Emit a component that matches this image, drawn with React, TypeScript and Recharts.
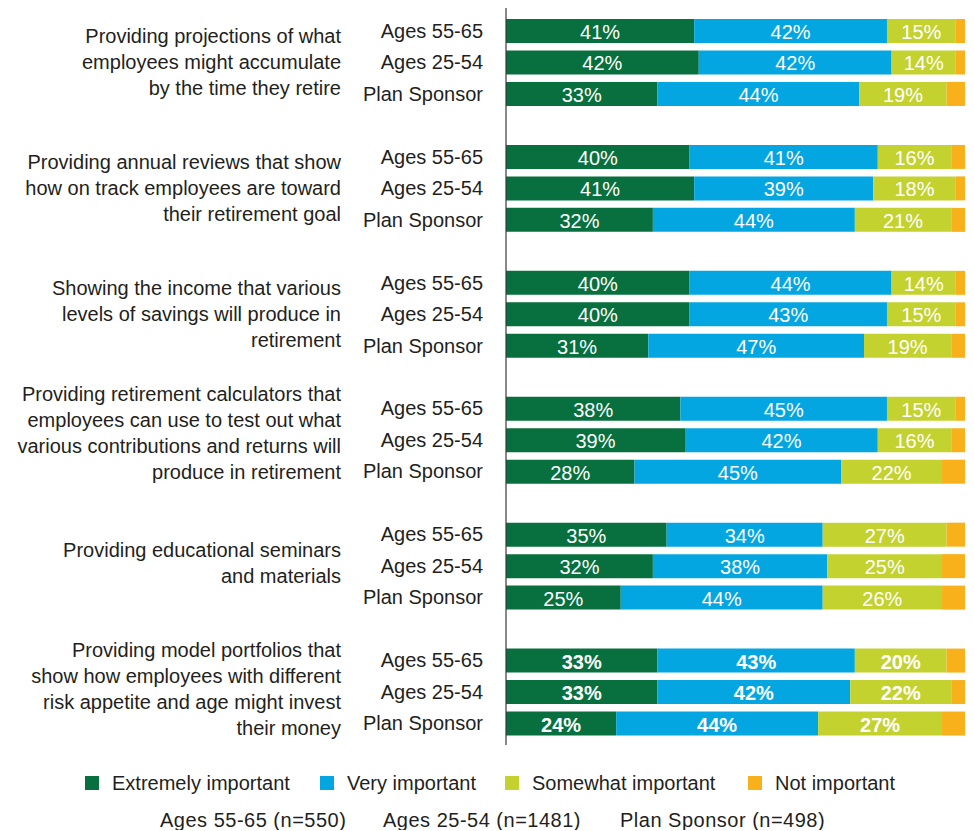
import { BarChart, Bar, XAxis, YAxis, LabelList } from "recharts";

// ─── Data ────────────────────────────────────────────────
const GROUPS: string[][] = [
  ["Providing projections of what", "employees might accumulate", "by the time they retire"],
  ["Providing annual reviews that show", "how on track employees are toward", "their retirement goal"],
  ["Showing the income that various", "levels of savings will produce in", "retirement"],
  [
    "Providing retirement calculators that",
    "employees can use to test out what",
    "various contributions and returns will",
    "produce in retirement",
  ],
  ["Providing educational seminars", "and materials"],
  [
    "Providing model portfolios that",
    "show how employees with different",
    "risk appetite and age might invest",
    "their money",
  ],
];

const SEGMENTS = ["Ages 55-65", "Ages 25-54", "Plan Sponsor"];

// one value per bar: group by group, segment by segment
const EXTREMELY = [41, 42, 33, 40, 41, 32, 40, 40, 31, 38, 39, 28, 35, 32, 25, 33, 33, 24];
const VERY = [42, 42, 44, 41, 39, 44, 44, 43, 47, 45, 42, 45, 34, 38, 44, 43, 42, 44];
const SOMEWHAT = [15, 14, 19, 16, 18, 21, 14, 15, 19, 15, 16, 22, 27, 25, 26, 20, 22, 27];
const NOT_IMPORTANT = [2, 2, 4, 3, 2, 3, 2, 2, 3, 2, 3, 5, 4, 5, 5, 4, 3, 5];

const SERIES = [
  { key: "extremely", name: "Extremely important", color: "#08703e", values: EXTREMELY },
  { key: "very", name: "Very important", color: "#03a6e1", values: VERY },
  { key: "somewhat", name: "Somewhat important", color: "#c3d22f", values: SOMEWHAT },
  { key: "notImportant", name: "Not important", color: "#f8b11a", values: NOT_IMPORTANT },
];

const SAMPLES = ["Ages 55-65 (n=550)", "Ages 25-54 (n=1481)", "Plan Sponsor (n=498)"];

// last group is printed in bold
const BOLD_GROUP = 5;

// ─── Rows (with an empty spacer row between groups) ──────
interface Row {
  key: string;
  g: number;
  s: number;
  [k: string]: any;
}

const ROWS: Row[] = [];
GROUPS.forEach((_, g) => {
  SEGMENTS.forEach((_, s) => {
    const i = g * SEGMENTS.length + s;
    const row: Row = { key: `r${g}-${s}`, g, s };
    SERIES.forEach((se) => (row[se.key] = se.values[i]));
    ROWS.push(row);
  });
  if (g < GROUPS.length - 1) ROWS.push({ key: `gap${g}`, g: -1, s: -1 });
});
const ROW_BY_KEY: Record<string, Row> = {};
ROWS.forEach((r) => (ROW_BY_KEY[r.key] = r));

const FONT = '"Liberation Sans", Arial, Helvetica, sans-serif';
const TEXT = "#231f20";

// ─── Y axis tick: segment label + group title ────────────
function RowTick(props: any) {
  const { y, payload } = props;
  const row = ROW_BY_KEY[payload.value];
  if (!row || row.g < 0) return null;
  const lines = GROUPS[row.g];
  const shift = lines.length === 3 ? 0 : lines.length === 4 && row.g === 3 ? -7 : -3;
  return (
    <g>
      <text x={475} y={y} textAnchor="end" dominantBaseline="central" fontSize={20} fill={TEXT} fontFamily={FONT}>
        {SEGMENTS[row.s]}
      </text>
      {row.s === 1 &&
        lines.map((line, i) => (
          <text
            key={i}
            x={333}
            y={y + shift + (i - (lines.length - 1) / 2) * 26}
            textAnchor="end"
            dominantBaseline="central"
            fontSize={20}
            fill={TEXT}
            fontFamily={FONT}
          >
            {line}
          </text>
        ))}
    </g>
  );
}

// ─── Bar value label ─────────────────────────────────────
function ValueLabel(props: any) {
  const { x, y, width, height, value } = props;
  if (value == null || value.v == null) return null;
  return (
    <text
      x={x + width / 2}
      y={y + height / 2 + 1}
      textAnchor="middle"
      dominantBaseline="central"
      fontSize={20}
      fill="#ffffff"
      fontWeight={value.bold ? "bold" : "normal"}
      fontFamily={FONT}
    >
      {value.v}%
    </text>
  );
}

// ─── Component ───────────────────────────────────────────
export default function App() {
  const legendX = [77, 312, 497, 740];
  const sampleX = [152, 375, 612];
  return (
    <div style={{ width: 966, fontFamily: FONT, color: TEXT }}>
      <BarChart
        width={966}
        height={745}
        data={ROWS}
        layout="vertical"
        barSize={24}
        margin={{ top: 0, right: 9, bottom: 8, left: 0 }}
      >
        <XAxis type="number" domain={[0, 100]} hide />
        <YAxis
          type="category"
          dataKey="key"
          width={498}
          padding={{ top: 7, bottom: 6 }}
          axisLine={{ stroke: "#3a3a3a", strokeWidth: 1.2 }}
          tickLine={false}
          interval={0}
          tick={<RowTick />}
        />
        {SERIES.map((se) => (
          <Bar key={se.key} dataKey={se.key} name={se.name} stackId="a" fill={se.color} isAnimationActive={false}>
            {se.key !== "notImportant" && (
              <LabelList
                dataKey={(r: Row) => (r[se.key] == null ? null : { v: r[se.key], bold: r.g === BOLD_GROUP })}
                content={<ValueLabel />}
              />
            )}
          </Bar>
        ))}
      </BarChart>

      {/* Legend */}
      <div style={{ position: "relative", height: 20, marginTop: 20, fontSize: 20, lineHeight: "20px" }}>
        {SERIES.map((se, i) => (
          <div key={se.key} style={{ position: "absolute", left: legendX[i], top: 0, display: "flex", alignItems: "center" }}>
            <span style={{ display: "inline-block", width: 14, height: 14, background: se.color, marginRight: 13 }} />
            <span>{se.name}</span>
          </div>
        ))}
      </div>
      <div style={{ position: "relative", height: 20, marginTop: 17, fontSize: 20, lineHeight: "20px" }}>
        {SAMPLES.map((t, i) => (
          <span key={t} style={{ position: "absolute", left: sampleX[i], top: 0, whiteSpace: "nowrap", letterSpacing: 0.5 }}>
            {t}
          </span>
        ))}
      </div>
    </div>
  );
}
